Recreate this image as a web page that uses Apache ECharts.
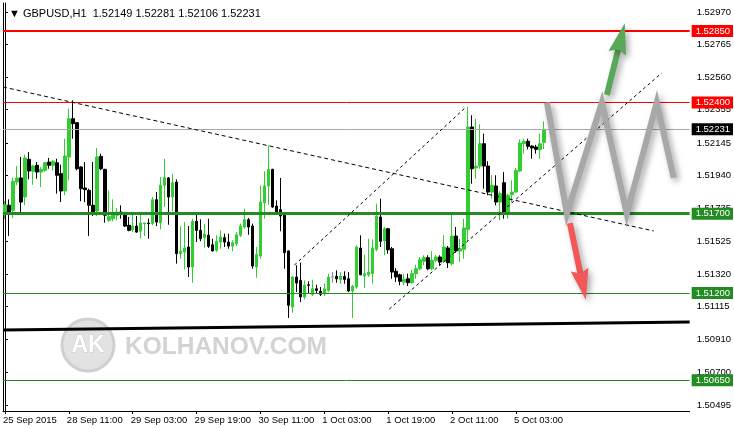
<!DOCTYPE html>
<html><head><meta charset="utf-8">
<script src="https://cdn.jsdelivr.net/npm/echarts@6/dist/echarts.min.js"></script>
<style>html,body{margin:0;padding:0;background:#fff}#c{width:734px;height:428px}</style>
</head><body><div id="c"></div>
<script>
// ---------- data ----------
const symbolName = 'GBPUSD,H1';
const timeTickLabels = ['25 Sep 2015','28 Sep 11:00','29 Sep 03:00','29 Sep 19:00','30 Sep 11:00','1 Oct 03:00','1 Oct 19:00','2 Oct 11:00','5 Oct 03:00'];
const barsPerTimeLabel = 16;
const emptyBarsRight = 36;
const priceTicks = [1.52970,1.52765,1.52560,1.52355,1.52145,1.51940,1.51735,1.51525,1.51320,1.51115,1.50910,1.50700,1.50495];

const open = [
1.51706,1.51753,1.51721,1.51899,1.51925,1.51805,1.52042,1.51967,1.52005,1.51962,
1.51973,1.52025,1.52005,1.52021,1.51952,1.51843,1.52057,1.52298,1.52273,1.51994,
1.51862,1.51847,1.51753,1.51717,1.52061,1.51979,1.51658,1.51668,1.51690,1.51710,
1.51706,1.51627,1.51599,1.51622,1.51589,1.51636,1.51641,1.51637,1.51788,1.51643,
1.51879,1.51925,1.51805,1.51899,1.51448,1.51458,1.51490,1.51364,1.51652,1.51595,
1.51549,1.51564,1.51504,1.51469,1.51521,1.51549,1.51521,1.51496,1.51511,1.51564,
1.51616,1.51662,1.51622,1.51364,1.51433,1.51769,1.51874,1.51979,1.51748,1.51725,
1.51693,1.51465,1.51112,1.51301,1.51280,1.51175,1.51252,1.51192,1.51227,1.51211,
1.51196,1.51217,1.51301,1.51305,1.51286,1.51305,1.51290,1.51213,1.51238,1.51484,
1.51307,1.51315,1.51322,1.51475,1.51679,1.51528,1.51605,1.51479,1.51337,1.51315,
1.51269,1.51290,1.51265,1.51322,1.51353,1.51400,1.51423,1.51353,1.51406,1.51427,
1.51400,1.51484,1.51385,1.51559,1.51465,1.51475,1.51601,1.52246,1.51988,1.52000,
1.52141,1.52000,1.51836,1.51874,1.51773,1.51895,1.51706,1.51819,1.51836,1.51969,
1.52141,1.52156,1.52126,1.52120,1.52103,1.52149];
const high = [
1.51778,1.51790,1.51925,1.52000,1.52057,1.52071,1.52088,1.52008,1.52025,1.51994,
1.52025,1.52051,1.52036,1.52046,1.52008,1.52172,1.52361,1.52414,1.52277,1.51998,
1.52025,1.51857,1.52025,1.52114,1.52078,1.51983,1.51847,1.51790,1.51736,1.51753,
1.51710,1.51679,1.51693,1.51685,1.51693,1.51644,1.51668,1.51805,1.51836,1.51931,
1.52046,1.51931,1.51952,1.51916,1.51620,1.51647,1.51622,1.51668,1.51693,1.51664,
1.51635,1.51668,1.51542,1.51564,1.51595,1.51574,1.51574,1.51532,1.51584,1.51637,
1.51731,1.51673,1.51637,1.51490,1.51879,1.51967,1.52131,1.51983,1.51784,1.51925,
1.51700,1.51469,1.51307,1.51375,1.51391,1.51280,1.51274,1.51284,1.51252,1.51238,
1.51259,1.51322,1.51332,1.51343,1.51332,1.51337,1.51332,1.51252,1.51501,1.51564,
1.51441,1.51542,1.51538,1.51763,1.51794,1.51616,1.51610,1.51490,1.51358,1.51322,
1.51322,1.51322,1.51347,1.51378,1.51427,1.51438,1.51438,1.51463,1.51438,1.51438,
1.51564,1.51496,1.51710,1.51616,1.51542,1.51668,1.52372,1.52320,1.52298,1.52263,
1.52204,1.52030,1.51942,1.51942,1.51841,1.51962,1.51826,1.51910,1.51988,1.52168,
1.52172,1.52172,1.52131,1.52134,1.52204,1.52281];
const low = [
1.51666,1.51559,1.51673,1.51879,1.51706,1.51753,1.51916,1.51882,1.51920,1.51868,
1.51962,1.51983,1.51973,1.51826,1.51773,1.51816,1.51910,1.52172,1.51973,1.51778,
1.51773,1.51559,1.51685,1.51685,1.51973,1.51643,1.51647,1.51652,1.51658,1.51668,
1.51616,1.51589,1.51584,1.51580,1.51542,1.51559,1.51542,1.51627,1.51622,1.51601,
1.51742,1.51630,1.51715,1.51385,1.51416,1.51349,1.51301,1.51265,1.51521,1.51526,
1.51486,1.51484,1.51463,1.51458,1.51479,1.51490,1.51479,1.51463,1.51496,1.51553,
1.51605,1.51567,1.51353,1.51297,1.51416,1.51668,1.51756,1.51736,1.51693,1.51589,
1.51353,1.51043,1.51076,1.51206,1.51143,1.51160,1.51196,1.51181,1.51196,1.51181,
1.51181,1.51206,1.51265,1.51265,1.51259,1.51259,1.51206,1.51043,1.51227,1.51312,
1.51232,1.51301,1.51259,1.51463,1.51490,1.51438,1.51448,1.51290,1.51269,1.51249,
1.51249,1.51244,1.51259,1.51290,1.51343,1.51375,1.51343,1.51343,1.51395,1.51375,
1.51391,1.51358,1.51375,1.51454,1.51395,1.51416,1.51521,1.51889,1.51920,1.51983,
1.51857,1.51816,1.51794,1.51753,1.51658,1.51668,1.51668,1.51773,1.51832,1.51962,
1.52078,1.52105,1.52046,1.52078,1.52046,1.52106];
const close = [
1.51756,1.51710,1.51904,1.51925,1.51773,1.52051,1.51969,1.52000,1.51962,1.51979,
1.52021,1.52005,1.52030,1.51942,1.51843,1.52063,1.52298,1.52267,1.51983,1.51857,
1.51851,1.51753,1.51710,1.52057,1.51983,1.51690,1.51681,1.51693,1.51710,1.51704,
1.51622,1.51595,1.51622,1.51584,1.51641,1.51641,1.51637,1.51788,1.51647,1.51879,
1.51927,1.51805,1.51895,1.51448,1.51465,1.51484,1.51364,1.51652,1.51595,1.51542,
1.51572,1.51494,1.51465,1.51526,1.51553,1.51521,1.51496,1.51517,1.51567,1.51622,
1.51662,1.51616,1.51370,1.51444,1.51773,1.51874,1.51977,1.51742,1.51710,1.51685,
1.51454,1.51123,1.51301,1.51263,1.51175,1.51249,1.51249,1.51227,1.51217,1.51192,
1.51227,1.51301,1.51301,1.51290,1.51307,1.51286,1.51213,1.51242,1.51490,1.51315,
1.51322,1.51332,1.51484,1.51685,1.51526,1.51605,1.51473,1.51332,1.51301,1.51274,
1.51286,1.51265,1.51322,1.51353,1.51410,1.51423,1.51353,1.51406,1.51427,1.51395,
1.51490,1.51391,1.51559,1.51465,1.51479,1.51610,1.52246,1.51983,1.52000,1.52141,
1.52000,1.51836,1.51879,1.51773,1.51826,1.51706,1.51816,1.51836,1.51973,1.52145,
1.52156,1.52124,1.52114,1.52105,1.52141,1.52231];

// horizontal levels: major resistance, resistance, bid, major support, support, support
const levelPrices = [1.52850, 1.52400, 1.52231, 1.51700, 1.51200, 1.50650];
// trend lines as [barIndex, price]
const descTrend = [[-0.5, 1.52498], [162.5, 1.51591]];
const channelUpper = [[72.5, 1.51376], [115.5, 1.52372]];
const channelLower = [[96.25, 1.51099], [164.5, 1.52586]];
const baseTrend = [[-0.5, 1.50967], [171.5, 1.51017]];
const zigzag = [[135.75, 1.52400], [140.75, 1.51700], [149.5, 1.52400], [155.75, 1.51700], [163.25, 1.52400], [167.5, 1.51925]];
// arrows: [start, tip]
const arrowUp = [[150.75, 1.52447], [155.25, 1.52900]];
const arrowDown = [[141.5, 1.51641], [145.5, 1.51156]];

// ---------- chart ----------
const n = open.length;
const total = n + emptyBarsRight;
const cats = Array.from({length: total}, (_, i) => String(i));
const candles = open.map((o, i) => [o, close[i], low[i], high[i]]);
const yMin = 1.50457, yMax = 1.53027;
const last = n - 1;
const header = '\u25BC ' + symbolName + '  ' + [open[last], high[last], low[last], close[last]].map(v => v.toFixed(5)).join(' ');
const FONT = 'Liberation Sans';

const levelStyles = [
  {line: {color: '#ff0000', width: 2}, bg: '#ff0000'},
  {line: {color: '#ff0000', width: 1}, bg: '#ff0000'},
  {line: {color: '#a8a8a8', width: 1}, bg: '#000000'},
  {line: {color: '#228b22', width: 3}, bg: '#228b22'},
  {line: {color: '#228b22', width: 1}, bg: '#228b22'},
  {line: {color: '#228b22', width: 1}, bg: '#228b22'}
];
const arrowColors = ['#58a858', '#f25858'];
const arrows = [arrowUp, arrowDown];

const showTick = (idx) => idx % barsPerTimeLabel === 0 && idx / barsPerTimeLabel < timeTickLabels.length;
const shadow = {shadowColor: 'rgba(0,0,0,0.35)', shadowBlur: 6, shadowOffsetX: 3, shadowOffsetY: 3};

const chart = echarts.init(document.getElementById('c'), null, {renderer: 'canvas'});
chart.setOption({
  animation: false,
  backgroundColor: '#ffffff',
  textStyle: {fontFamily: FONT},
  title: {
    text: header, left: 4, top: 3,
    textStyle: {fontSize: 11, fontWeight: 'normal', color: '#000', fontFamily: FONT}
  },
  graphic: [
    {type: 'circle', z: -10, shape: {cx: 88, cy: 345, r: 26}, style: {fill: '#e2e2e2', stroke: '#d0d0d0', lineWidth: 3}},
    {type: 'text', z: -9, x: 88, y: 346, style: {text: 'AK', fill: '#ffffff', stroke: '#cccccc', lineWidth: 1, font: 'bold 23px "Liberation Sans"', align: 'center', verticalAlign: 'middle'}},
    {type: 'text', z: -9, x: 125, y: 347, style: {text: 'KOLHANOV.COM', fill: '#d3d3d3', font: 'bold 24.5px "Liberation Sans"', verticalAlign: 'middle'}}
  ],
  grid: {left: 3, right: 44, top: 3, bottom: 17},
  xAxis: [
    {
      type: 'category', data: cats, boundaryGap: true,
      axisLine: {show: true, lineStyle: {color: '#000', width: 1}},
      axisTick: {show: true, alignWithLabel: true, interval: showTick, length: 3, lineStyle: {color: '#000'}},
      axisLabel: {interval: showTick, align: 'left', margin: 4, fontSize: 9.5, color: '#000', fontFamily: FONT,
        padding: [0, 0, 0, -2],
        formatter: (v, i) => timeTickLabels[i / barsPerTimeLabel] || ''},
      splitLine: {show: false}
    },
    {type: 'value', min: -0.5, max: total - 0.5, show: false}
  ],
  yAxis: [
    {
      type: 'value', position: 'right', min: yMin, max: yMax,
      axisLine: {show: true, lineStyle: {color: '#000'}},
      axisTick: {show: true, length: 3, customValues: priceTicks, lineStyle: {color: '#000'}},
      axisLabel: {customValues: priceTicks, formatter: v => v.toFixed(5), margin: 7, fontSize: 9.5, color: '#000', fontFamily: FONT},
      splitLine: {show: false}
    },
    {
      type: 'value', position: 'left', min: yMin, max: yMax,
      axisLine: {show: true, lineStyle: {color: '#000'}},
      axisTick: {show: false}, axisLabel: {show: false}, splitLine: {show: false}
    }
  ],
  series: [
    {
      type: 'candlestick', xAxisIndex: 0, yAxisIndex: 0, data: candles, barWidth: 3, z: 3,
      itemStyle: {color: '#32cd32', color0: '#000000', borderColor: '#32cd32', borderColor0: '#000000', borderColorDoji: '#8c8c8c', borderWidth: 1}
    },
    {
      type: 'line', xAxisIndex: 0, yAxisIndex: 0, data: [], z: 4, silent: true,
      markLine: {
        silent: true, symbol: 'none', animation: false, precision: 5,
        data: levelPrices.map((v, i) => ({
          yAxis: v,
          lineStyle: Object.assign({type: 'solid'}, levelStyles[i].line),
          label: {show: true, position: 'end', distance: 2, formatter: () => v.toFixed(5),
            color: '#fff', backgroundColor: levelStyles[i].bg, padding: [1, 3, 0, 4], fontSize: 9.5, lineHeight: 11, fontFamily: FONT}
        }))
      }
    },
    {type: 'line', xAxisIndex: 1, yAxisIndex: 0, data: baseTrend, symbol: 'none', silent: true, z: 5,
      lineStyle: {color: '#000', width: 3}},
    {type: 'line', xAxisIndex: 1, yAxisIndex: 0, data: descTrend, symbol: 'none', silent: true, z: 5,
      lineStyle: {color: '#000', width: 1, type: [4, 3]}},
    {type: 'line', xAxisIndex: 1, yAxisIndex: 0, data: channelUpper, symbol: 'none', silent: true, z: 5,
      lineStyle: {color: '#000', width: 1, type: [3, 3]}},
    {type: 'line', xAxisIndex: 1, yAxisIndex: 0, data: channelLower, symbol: 'none', silent: true, z: 5,
      lineStyle: {color: '#000', width: 1, type: [3, 3]}},
    {type: 'line', xAxisIndex: 1, yAxisIndex: 0, data: zigzag, symbol: 'none', silent: true, z: 6,
      lineStyle: Object.assign({color: '#a8a8a8', width: 6, join: 'miter'}, shadow)},
    {
      type: 'custom', xAxisIndex: 1, yAxisIndex: 0, z: 7, silent: true, clip: false,
      data: arrows.map((a, k) => [a[0][0], a[0][1], a[1][0], a[1][1], k]),
      renderItem: (params, api) => {
        const p0 = api.coord([api.value(0), api.value(1)]);
        const p1 = api.coord([api.value(2), api.value(3)]);
        const color = arrowColors[api.value(4)];
        const dx = p1[0] - p0[0], dy = p1[1] - p0[1];
        const L = Math.hypot(dx, dy), ux = dx / L, uy = dy / L, nx = -uy, ny = ux;
        const headLen = 31, halfW = 9, notch = 4;
        const bx = p1[0] - ux * headLen, by = p1[1] - uy * headLen;
        const mx = p1[0] - ux * (headLen - notch), my = p1[1] - uy * (headLen - notch);
        return {
          type: 'group',
          children: [
            {type: 'line', shape: {x1: p0[0], y1: p0[1], x2: mx, y2: my},
              style: Object.assign({stroke: color, lineWidth: 6}, shadow)},
            {type: 'polygon', shape: {points: [[p1[0], p1[1]], [bx + nx * halfW, by + ny * halfW], [mx, my], [bx - nx * halfW, by - ny * halfW]]},
              style: Object.assign({fill: color}, shadow)}
          ]
        };
      }
    }
  ]
});
</script>
</body></html>
